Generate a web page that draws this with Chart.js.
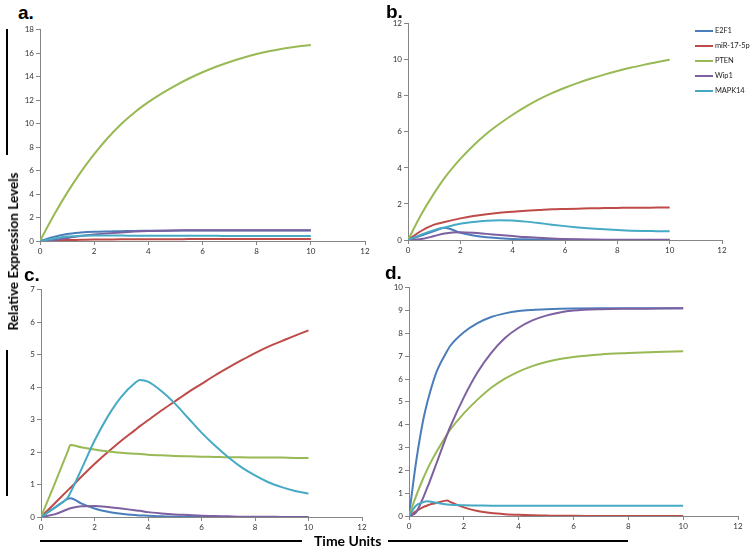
<!DOCTYPE html>
<html>
<head>
<meta charset="utf-8">
<script src="https://cdn.jsdelivr.net/npm/chart.js@4.4.1/dist/chart.umd.min.js"></script>
<style>
  body { margin: 0; background: #fff; width: 750px; height: 548px; position: relative; overflow: hidden; font-family: "Lato", "Liberation Sans", sans-serif; }
  canvas { position: absolute; }
  .lbl { position: absolute; font: bold 19px "Liberation Sans", Arial, sans-serif; line-height: 20px; color: #000; }
  .bar { position: absolute; background: #000; }
  #ytitle { position: absolute; font: bold 14px "Lato", sans-serif; white-space: nowrap; transform-origin: center center; }
  #xtitle { position: absolute; font: bold 14px "Lato", sans-serif; white-space: nowrap; line-height: 16px; }
  .leg { position: absolute; font: 7.5px "Lato", sans-serif; color: #222; line-height: 10px; letter-spacing: -0.1px; }
  .leg i { position: absolute; left: 0; top: 4px; width: 18px; height: 2px; }
  .leg span { position: absolute; left: 20px; top: 0; white-space: nowrap; }
</style>
</head>
<body>
<canvas id="canvas1" width="363" height="236" style="left:10px;top:23px"></canvas>
<canvas id="canvas2" width="352" height="241" style="left:378px;top:17px"></canvas>
<canvas id="canvas3" width="359" height="252" style="left:11px;top:283px"></canvas>
<canvas id="canvas4" width="367" height="253" style="left:379px;top:281px"></canvas>

<div class="lbl" style="left:18px;top:3px">a.</div>
<div class="lbl" style="left:386px;top:2px">b.</div>
<div class="lbl" style="left:24px;top:265px">c.</div>
<div class="lbl" style="left:385px;top:263px">d.</div>

<div class="bar" style="left:6px;top:29px;width:2px;height:126px"></div>
<div class="bar" style="left:6px;top:350px;width:2px;height:146px"></div>
<div class="bar" style="left:40px;top:540px;width:262px;height:2px"></div>
<div class="bar" style="left:388px;top:540px;width:240px;height:2px"></div>
<div id="ytitle">Relative Expression Levels</div>
<div id="xtitle" style="left:314px;top:533px">Time Units</div>
<div id="legend"></div>

<script>
"use strict";
// series names and colours
const names = ["E2F1", "miR-17-5p", "PTEN", "Wip1", "MAPK14"];
const colors = ["#4A7EBB", "#BE4B48", "#98B954", "#7D60A0", "#46AAC5"];

// panel a
const timeA = [0,0.5,1,1.5,2,2.5,3,3.5,4,4.5,5,5.5,6,6.5,7,7.5,8,8.5,9,9.5,10];
const e2f1A = [0,0.35,0.6,0.72,0.79,0.82,0.84,0.86,0.87,0.88,0.89,0.89,0.9,0.9,0.9,0.9,0.9,0.9,0.9,0.9,0.9];
const mirA = [0,0.04,0.08,0.1,0.12,0.13,0.14,0.14,0.15,0.15,0.15,0.16,0.16,0.16,0.16,0.16,0.16,0.16,0.16,0.16,0.16];
const ptenA = [0,2.15,4.1,5.85,7.4,8.78,9.98,10.98,11.83,12.58,13.25,13.85,14.38,14.85,15.26,15.62,15.93,16.19,16.41,16.58,16.7];
const wip1A = [0,0.08,0.25,0.42,0.55,0.65,0.73,0.8,0.85,0.88,0.9,0.91,0.92,0.92,0.92,0.92,0.92,0.92,0.92,0.92,0.92];
const mapkA = [0,0.2,0.38,0.44,0.46,0.46,0.46,0.45,0.45,0.45,0.44,0.44,0.44,0.44,0.43,0.43,0.43,0.43,0.43,0.43,0.43];

// panel b
const timeB = [0,0.5,1,1.4,2,2.5,3,3.5,4,4.5,5,5.5,6,6.5,7,7.5,8,8.5,9,9.5,10];
const e2f1B = [0,0.25,0.5,0.68,0.4,0.25,0.15,0.1,0.06,0.04,0.03,0.02,0.01,0.01,0,0,0,0,0,0,0];
const mirB = [0,0.5,0.85,1.0,1.2,1.33,1.43,1.51,1.57,1.62,1.66,1.7,1.72,1.74,1.76,1.77,1.78,1.79,1.79,1.8,1.8];
const ptenB = [0,1.4,2.6,3.45,4.5,5.25,5.9,6.45,6.95,7.4,7.8,8.15,8.45,8.72,8.96,9.18,9.38,9.56,9.72,9.87,10.0];
const wip1B = [0,0.05,0.22,0.36,0.43,0.4,0.34,0.28,0.22,0.16,0.12,0.08,0.05,0.04,0.03,0.02,0.02,0.01,0.01,0.01,0.01];
const mapkB = [0,0.3,0.55,0.7,0.9,1.0,1.07,1.1,1.08,1.02,0.94,0.85,0.77,0.7,0.64,0.59,0.55,0.52,0.5,0.49,0.48];

// panel c
const timeC = [0,0.5,1,1.1,1.5,2,2.5,3,3.5,3.7,4,4.5,5,5.5,6,6.5,7,7.5,8,8.5,9,9.5,10];
const e2f1C = [0,0.28,0.56,0.58,0.42,0.26,0.16,0.1,0.06,0.05,0.04,0.02,0.01,0.01,0,0,0,0,0,0,0,0,0];
const mirC = [0,0.41,0.82,0.9,1.23,1.63,2.0,2.35,2.67,2.8,2.98,3.28,3.56,3.84,4.1,4.36,4.6,4.83,5.05,5.25,5.42,5.59,5.75];
const ptenC = [0,1.0,2.02,2.22,2.15,2.08,2.02,1.98,1.95,1.94,1.92,1.9,1.88,1.87,1.86,1.85,1.84,1.84,1.83,1.83,1.83,1.82,1.82];
const wip1C = [0,0.08,0.24,0.27,0.33,0.34,0.31,0.26,0.21,0.19,0.15,0.11,0.08,0.06,0.04,0.03,0.02,0.01,0.01,0.01,0,0,0];
const mapkC = [0,0.28,0.6,0.75,1.45,2.35,3.1,3.7,4.12,4.22,4.17,3.88,3.5,3.05,2.6,2.2,1.84,1.53,1.28,1.07,0.92,0.8,0.72];

// panel d
const timeD = [0,0.25,0.5,0.65,0.75,1,1.4,1.5,2,2.5,3,3.5,4,4.5,5,5.5,6,7,8,9,10];
const e2f1D = [0,2.3,4.1,4.9,5.35,6.3,7.25,7.45,8.05,8.45,8.72,8.88,8.98,9.03,9.06,9.08,9.09,9.1,9.1,9.1,9.1];
const mirD = [0,0.2,0.38,0.45,0.5,0.57,0.68,0.62,0.38,0.22,0.13,0.08,0.05,0.03,0.02,0.01,0.01,0,0,0,0];
const ptenD = [0,0.85,1.6,2.0,2.25,2.8,3.6,3.78,4.5,5.1,5.62,6.02,6.33,6.57,6.75,6.88,6.97,7.08,7.14,7.19,7.22];
const wip1D = [0,0.15,0.75,1.2,1.5,2.3,3.6,3.9,5.2,6.3,7.15,7.8,8.25,8.57,8.78,8.92,9.0,9.06,9.08,9.09,9.1];
const mapkD = [0,0.45,0.6,0.65,0.64,0.58,0.5,0.49,0.47,0.46,0.45,0.45,0.45,0.45,0.45,0.45,0.45,0.45,0.45,0.45,0.45];

// y axis maxima and steps per panel
const yMax = [18, 12, 7, 10];
const yStep = [2, 2, 1, 1];

function MakeChart(canvas, time, series, ymax, ystep)
{
    let datasets = series.map((s, i) => ({
        label: names[i],
        data: s.map((v, k) => ({ x: time[k], y: v })),
        borderColor: colors[i],
        borderWidth: 2,
        pointRadius: 0,
        fill: false,
        cubicInterpolationMode: "monotone",
        order: series.length - i,
    }));

    let tickFont = { font: { family: "Lato", size: 8 }, color: "#333", padding: 2 };
    let gridOpts = { display: true, drawOnChartArea: false, drawTicks: true, tickLength: 4, color: "#868686" };

    let opts = {
        type: "line",
        data: { datasets: datasets },
        options: {
            responsive: false,
            animation: false,
            layout: { padding: { top: 6, right: 8, left: 0, bottom: 0 } },
            plugins: { legend: { display: false }, tooltip: { enabled: false } },
            scales: {
                x: {
                    type: "linear", min: 0, max: 12,
                    border: { color: "#868686" },
                    grid: gridOpts,
                    ticks: Object.assign({ stepSize: 2, maxRotation: 0 }, tickFont),
                    afterFit: (s) => { s.height = 18; },
                },
                y: {
                    type: "linear", min: 0, max: ymax,
                    border: { color: "#868686" },
                    grid: gridOpts,
                    ticks: Object.assign({ stepSize: ystep }, tickFont),
                    afterFit: (s) => { s.width = 30; },
                },
            },
        },
    };
    return new Chart(canvas, opts);
}

MakeChart(document.querySelector("#canvas1"), timeA, [e2f1A, mirA, ptenA, wip1A, mapkA], yMax[0], yStep[0]);
MakeChart(document.querySelector("#canvas2"), timeB, [e2f1B, mirB, ptenB, wip1B, mapkB], yMax[1], yStep[1]);
MakeChart(document.querySelector("#canvas3"), timeC, [e2f1C, mirC, ptenC, wip1C, mapkC], yMax[2], yStep[2]);
MakeChart(document.querySelector("#canvas4"), timeD, [e2f1D, mirD, ptenD, wip1D, mapkD], yMax[3], yStep[3]);

// legend (panel b)
let legend = document.querySelector("#legend");
names.forEach((n, i) => {
    let d = document.createElement("div");
    d.className = "leg";
    d.style.left = "695px";
    d.style.top = (26 + i * 15) + "px";
    d.innerHTML = '<i style="background:' + colors[i] + '"></i><span>' + n + '</span>';
    legend.appendChild(d);
});

// rotated y title, centred on x=12, y=251
let yt = document.querySelector("#ytitle");
let w = yt.offsetWidth, h = yt.offsetHeight;
yt.style.left = (12 - w / 2) + "px";
yt.style.top = (251 - h / 2) + "px";
yt.style.transform = "rotate(-90deg) scaleX(" + (158 / w) + ")";
</script>
</body>
</html>
